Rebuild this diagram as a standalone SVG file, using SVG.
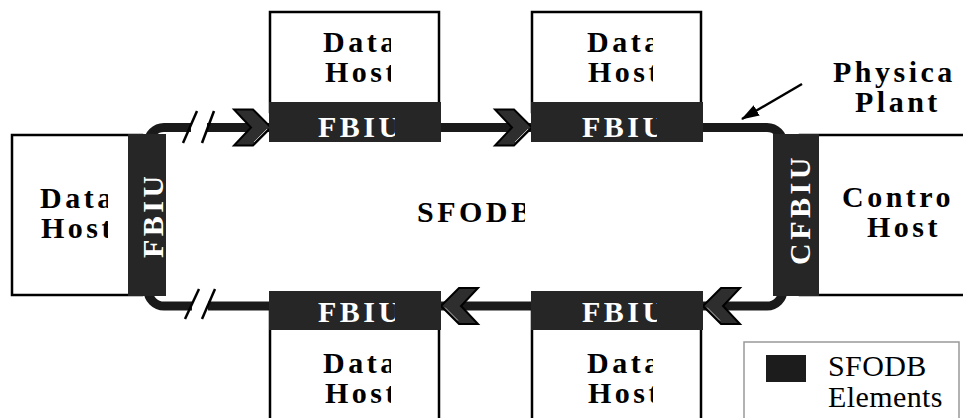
<svg xmlns="http://www.w3.org/2000/svg" width="963" height="418" viewBox="0 0 963 418">
<style>
  .box{fill:#fff;stroke:#000;stroke-width:2.5}
  .bar{fill:#262626}
  .lbl{font-family:"Liberation Serif","Times New Roman",serif;font-weight:bold;font-size:30px;letter-spacing:3.5px;fill:#000}
  .wl{fill:#fff}
  .bus{fill:none;stroke:#1a1a1a;stroke-width:9}
  .brk{stroke:#000;stroke-width:2.5;fill:none}
  .leg{font-family:"Liberation Serif","Times New Roman",serif;font-size:30px;letter-spacing:0.4px;fill:#000}
</style>
<defs>
  <!-- chevron pointing right, tip at origin -->
  <g id="chev">
    <polygon points="-37,-18 -18,-18 0,0 -18,18 -37,18 -20,0" fill="#2e2e2e" stroke="#000" stroke-width="2"/>
    <line x1="-17" y1="14.5" x2="-4" y2="1.5" stroke="#b0b0b0" stroke-width="1"/>
  </g>
  <marker id="ah" viewBox="0 0 18 12" refX="17" refY="6" markerWidth="18" markerHeight="12" markerUnits="userSpaceOnUse" orient="auto">
    <path d="M0,0 L18,6 L0,12 z" fill="#000"/>
  </marker>
  <clipPath id="cL"><rect x="0" y="0" width="108" height="418"/></clipPath>
  <clipPath id="cD1"><rect x="0" y="0" width="391" height="418"/></clipPath>
  <clipPath id="cD2"><rect x="0" y="0" width="653" height="418"/></clipPath>
  <clipPath id="cF1"><rect x="0" y="0" width="395" height="418"/></clipPath>
  <clipPath id="cF2"><rect x="0" y="0" width="657" height="418"/></clipPath>
  <clipPath id="cS"><rect x="0" y="0" width="525" height="418"/></clipPath>
  <clipPath id="cV"><rect x="0" y="177" width="963" height="241"/></clipPath>
</defs>

<!-- bus ring, chevrons, break marks and pointer -->
<g id="connectors">
  <path class="bus" d="M207,127.5 H767 A16,16 0 0 1 783,143.5 V290 A16,16 0 0 1 767,306 H208"/>
  <path class="bus" d="M191,127.5 H164 A16,16 0 0 0 148,143.5 V290 A16,16 0 0 0 164,306 H192"/>
  <line class="brk" x1="183" y1="143" x2="197" y2="111"/>
  <line class="brk" x1="202" y1="143" x2="214" y2="111"/>
  <line class="brk" x1="185" y1="319" x2="199" y2="289"/>
  <line class="brk" x1="202" y1="319" x2="215" y2="289"/>
  <use href="#chev" transform="translate(271,127.5)"/>
  <use href="#chev" transform="translate(532,127.5)"/>
  <use href="#chev" transform="translate(441,306) scale(-1,1)"/>
  <use href="#chev" transform="translate(703,306) scale(-1,1)"/>
  <line x1="802" y1="84" x2="742" y2="119" stroke="#000" stroke-width="2.5" marker-end="url(#ah)"/>
</g>

<g id="data-host-left">
  <rect class="box" x="12" y="135" width="130" height="160"/>
  <text class="lbl" clip-path="url(#cL)"><tspan x="40" y="208">Data</tspan><tspan x="41" y="238">Host</tspan></text>
  <rect class="bar" x="128" y="134" width="38" height="162"/>
  <g clip-path="url(#cV)"><text class="lbl wl" transform="translate(163,258) rotate(-90)">FBIU</text></g>
</g>

<g id="data-host-top-1">
  <rect class="box" x="270" y="12" width="169" height="100"/>
  <text class="lbl" clip-path="url(#cD1)"><tspan x="323" y="52">Data</tspan><tspan x="325" y="82">Host</tspan></text>
  <rect class="bar" x="269" y="102" width="172" height="40"/>
  <text class="lbl wl" x="318" y="137" clip-path="url(#cF1)">FBIU</text>
</g>

<g id="data-host-top-2">
  <rect class="box" x="532" y="12" width="169" height="100"/>
  <text class="lbl" clip-path="url(#cD2)"><tspan x="587" y="52">Data</tspan><tspan x="588" y="82">Host</tspan></text>
  <rect class="bar" x="531" y="102" width="172" height="40"/>
  <text class="lbl wl" x="582" y="137" clip-path="url(#cF2)">FBIU</text>
</g>

<g id="data-host-bottom-1">
  <rect class="box" x="270" y="310" width="169" height="130"/>
  <text class="lbl" clip-path="url(#cD1)"><tspan x="323" y="373">Data</tspan><tspan x="325" y="403">Host</tspan></text>
  <rect class="bar" x="269" y="291" width="172" height="39"/>
  <text class="lbl wl" x="318" y="322" clip-path="url(#cF1)">FBIU</text>
</g>

<g id="data-host-bottom-2">
  <rect class="box" x="532" y="310" width="169" height="130"/>
  <text class="lbl" clip-path="url(#cD2)"><tspan x="587" y="373">Data</tspan><tspan x="588" y="403">Host</tspan></text>
  <rect class="bar" x="531" y="291" width="172" height="39"/>
  <text class="lbl wl" x="582" y="322" clip-path="url(#cF2)">FBIU</text>
</g>

<g id="control-host">
  <rect class="box" x="800" y="135" width="200" height="160"/>
  <text class="lbl"><tspan x="842" y="207">Contro</tspan><tspan x="867" y="237">Host</tspan></text>
  <rect class="bar" x="773" y="134" width="46" height="162"/>
  <text class="lbl wl" transform="translate(810,265) rotate(-90)">CFBIU</text>
</g>

<g id="sfodb">
  <text class="lbl" x="417" y="222" clip-path="url(#cS)">SFODB</text>
</g>

<g id="physical-plant">
  <text class="lbl"><tspan x="833" y="82">Physica</tspan><tspan x="855" y="112">Plant</tspan></text>
</g>

<g id="legend">
  <rect x="744" y="342" width="215" height="90" fill="#fff" stroke="#999" stroke-width="1.5"/>
  <rect x="766" y="355" width="40" height="27" fill="#1c1c1c"/>
  <text class="leg"><tspan x="828" y="376">SFODB</tspan><tspan x="828" y="407">Elements</tspan></text>
</g>
</svg>
